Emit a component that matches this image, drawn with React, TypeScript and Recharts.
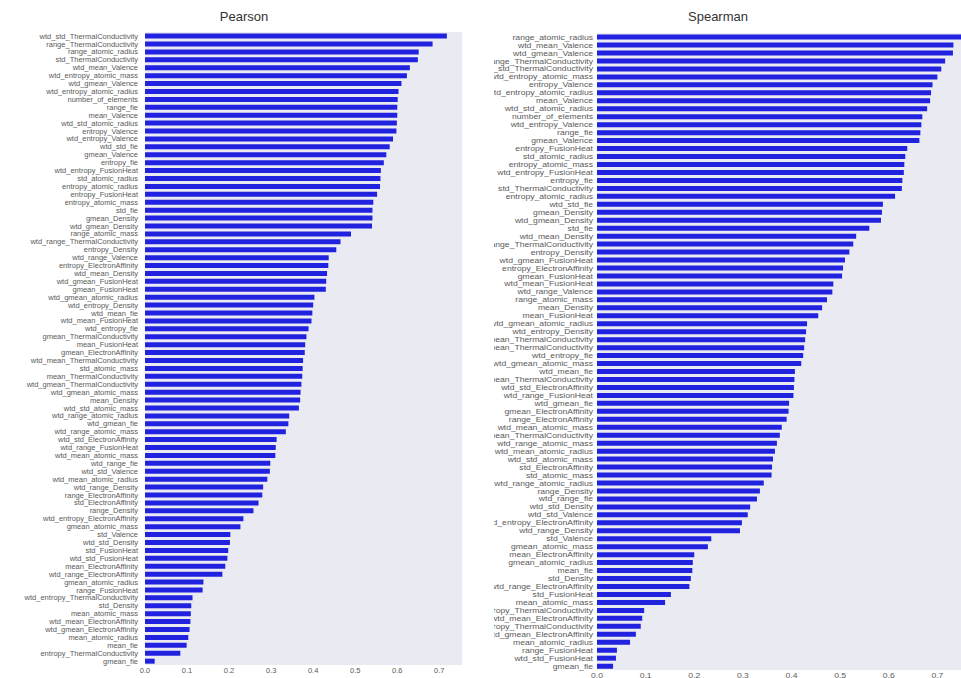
import { BarChart, Bar, XAxis, YAxis, CartesianGrid } from 'recharts';

const PEARSON_FEATURES = [
  'wtd_std_ThermalConductivity', 'range_ThermalConductivity', 'range_atomic_radius', 'std_ThermalConductivity',
  'wtd_mean_Valence', 'wtd_entropy_atomic_mass', 'wtd_gmean_Valence', 'wtd_entropy_atomic_radius',
  'number_of_elements', 'range_fie', 'mean_Valence', 'wtd_std_atomic_radius',
  'entropy_Valence', 'wtd_entropy_Valence', 'wtd_std_fie', 'gmean_Valence',
  'entropy_fie', 'wtd_entropy_FusionHeat', 'std_atomic_radius', 'entropy_atomic_radius',
  'entropy_FusionHeat', 'entropy_atomic_mass', 'std_fie', 'gmean_Density',
  'wtd_gmean_Density', 'range_atomic_mass', 'wtd_range_ThermalConductivity', 'entropy_Density',
  'wtd_range_Valence', 'entropy_ElectronAffinity', 'wtd_mean_Density', 'wtd_gmean_FusionHeat',
  'gmean_FusionHeat', 'wtd_gmean_atomic_radius', 'wtd_entropy_Density', 'wtd_mean_fie',
  'wtd_mean_FusionHeat', 'wtd_entropy_fie', 'gmean_ThermalConductivity', 'mean_FusionHeat',
  'gmean_ElectronAffinity', 'wtd_mean_ThermalConductivity', 'std_atomic_mass', 'mean_ThermalConductivity',
  'wtd_gmean_ThermalConductivity', 'wtd_gmean_atomic_mass', 'mean_Density', 'wtd_std_atomic_mass',
  'wtd_range_atomic_radius', 'wtd_gmean_fie', 'wtd_range_atomic_mass', 'wtd_std_ElectronAffinity',
  'wtd_range_FusionHeat', 'wtd_mean_atomic_mass', 'wtd_range_fie', 'wtd_std_Valence',
  'wtd_mean_atomic_radius', 'wtd_range_Density', 'range_ElectronAffinity', 'std_ElectronAffinity',
  'range_Density', 'wtd_entropy_ElectronAffinity', 'gmean_atomic_mass', 'std_Valence',
  'wtd_std_Density', 'std_FusionHeat', 'wtd_std_FusionHeat', 'mean_ElectronAffinity',
  'wtd_range_ElectronAffinity', 'gmean_atomic_radius', 'range_FusionHeat', 'wtd_entropy_ThermalConductivity',
  'std_Density', 'mean_atomic_mass', 'wtd_mean_ElectronAffinity', 'wtd_gmean_ElectronAffinity',
  'mean_atomic_radius', 'mean_fie', 'entropy_ThermalConductivity', 'gmean_fie',
];

const PEARSON_VALUES = [
  0.718, 0.684, 0.651, 0.649, 0.63, 0.623, 0.61, 0.603,
  0.601, 0.6, 0.6, 0.599, 0.598, 0.59, 0.582, 0.574,
  0.568, 0.561, 0.56, 0.559, 0.552, 0.543, 0.541, 0.541,
  0.54, 0.49, 0.465, 0.455, 0.437, 0.436, 0.433, 0.431,
  0.43, 0.403, 0.4, 0.398, 0.396, 0.389, 0.384, 0.381,
  0.38, 0.376, 0.375, 0.374, 0.372, 0.37, 0.369, 0.366,
  0.343, 0.341, 0.335, 0.313, 0.311, 0.31, 0.298, 0.297,
  0.291, 0.281, 0.279, 0.27, 0.258, 0.234, 0.227, 0.203,
  0.202, 0.198, 0.196, 0.191, 0.184, 0.139, 0.137, 0.113,
  0.11, 0.109, 0.108, 0.106, 0.103, 0.099, 0.084, 0.023,
];

const SPEARMAN_FEATURES = [
  'range_atomic_radius', 'wtd_mean_Valence', 'wtd_gmean_Valence', 'range_ThermalConductivity',
  'wtd_std_ThermalConductivity', 'wtd_entropy_atomic_mass', 'entropy_Valence', 'wtd_entropy_atomic_radius',
  'mean_Valence', 'wtd_std_atomic_radius', 'number_of_elements', 'wtd_entropy_Valence',
  'range_fie', 'gmean_Valence', 'entropy_FusionHeat', 'std_atomic_radius',
  'entropy_atomic_mass', 'wtd_entropy_FusionHeat', 'entropy_fie', 'std_ThermalConductivity',
  'entropy_atomic_radius', 'wtd_std_fie', 'gmean_Density', 'wtd_gmean_Density',
  'std_fie', 'wtd_mean_Density', 'wtd_range_ThermalConductivity', 'entropy_Density',
  'wtd_gmean_FusionHeat', 'entropy_ElectronAffinity', 'gmean_FusionHeat', 'wtd_mean_FusionHeat',
  'wtd_range_Valence', 'range_atomic_mass', 'mean_Density', 'mean_FusionHeat',
  'wtd_gmean_atomic_radius', 'wtd_entropy_Density', 'wtd_gmean_ThermalConductivity', 'gmean_ThermalConductivity',
  'wtd_entropy_fie', 'wtd_gmean_atomic_mass', 'wtd_mean_fie', 'mean_ThermalConductivity',
  'wtd_std_ElectronAffinity', 'wtd_range_FusionHeat', 'wtd_gmean_fie', 'gmean_ElectronAffinity',
  'range_ElectronAffinity', 'wtd_mean_atomic_mass', 'wtd_mean_ThermalConductivity', 'wtd_range_atomic_mass',
  'wtd_mean_atomic_radius', 'wtd_std_atomic_mass', 'std_ElectronAffinity', 'std_atomic_mass',
  'wtd_range_atomic_radius', 'range_Density', 'wtd_range_fie', 'wtd_std_Density',
  'wtd_std_Valence', 'wtd_entropy_ElectronAffinity', 'wtd_range_Density', 'std_Valence',
  'gmean_atomic_mass', 'mean_ElectronAffinity', 'gmean_atomic_radius', 'mean_fie',
  'std_Density', 'wtd_range_ElectronAffinity', 'std_FusionHeat', 'mean_atomic_mass',
  'entropy_ThermalConductivity', 'wtd_mean_ElectronAffinity', 'wtd_entropy_ThermalConductivity', 'wtd_gmean_ElectronAffinity',
  'mean_atomic_radius', 'range_FusionHeat', 'wtd_std_FusionHeat', 'gmean_fie',
];

const SPEARMAN_VALUES = [
  0.762, 0.733, 0.732, 0.716, 0.708, 0.7, 0.69, 0.687,
  0.685, 0.679, 0.669, 0.667, 0.665, 0.663, 0.638, 0.634,
  0.632, 0.631, 0.628, 0.627, 0.613, 0.588, 0.586, 0.584,
  0.56, 0.533, 0.527, 0.519, 0.51, 0.506, 0.504, 0.486,
  0.484, 0.473, 0.463, 0.455, 0.432, 0.43, 0.428, 0.426,
  0.424, 0.42, 0.407, 0.406, 0.405, 0.404, 0.395, 0.394,
  0.39, 0.38, 0.376, 0.37, 0.366, 0.362, 0.36, 0.359,
  0.343, 0.335, 0.329, 0.315, 0.31, 0.298, 0.294, 0.235,
  0.228, 0.2, 0.197, 0.196, 0.193, 0.19, 0.152, 0.14,
  0.097, 0.093, 0.09, 0.08, 0.068, 0.041, 0.039, 0.033,
];

const X_TICKS = [0, 0.1, 0.2, 0.3, 0.4, 0.5, 0.6, 0.7];

const BAR_COLOR = '#2121e0';
const PANEL_BG = '#eaeaf2';
const TEXT_COLOR = '#5a5a5a';
const FONT = '"Liberation Sans", Arial, sans-serif';

const pearsonData = PEARSON_FEATURES.map((name, i) => ({ name, value: PEARSON_VALUES[i] }));
const spearmanData = SPEARMAN_FEATURES.map((name, i) => ({ name, value: SPEARMAN_VALUES[i] }));

// the spearman image in the reference is stretched sideways, so its text is too
function makeTick(stretch: number, axis: 'x' | 'y') {
  return function Tick(props: any) {
    const { x, y, payload } = props;
    const label = axis === 'x' ? Number(payload.value).toFixed(1) : payload.value;
    return (
      <g transform={`translate(${x},${y})`}>
        <text
          transform={`scale(${stretch},1)`}
          textAnchor={axis === 'x' ? 'middle' : 'end'}
          dy={axis === 'x' ? '0.71em' : '0.355em'}
          fontSize={7.5}
          fill={TEXT_COLOR}
          fontFamily={FONT}
        >
          {label}
        </text>
      </g>
    );
  };
}

interface PanelProps {
  data: { name: string; value: number }[];
  width: number;
  height: number;
  top: number;
  labelWidth: number;
  labelGap: number;
  xMax: number;
  rightMargin: number;
  stretch: number;
}

function CorrPanel({ data, width, height, top, labelWidth, labelGap, xMax, rightMargin, stretch }: PanelProps) {
  return (
    <BarChart
      layout="vertical"
      width={width}
      height={height}
      data={data}
      margin={{ top, right: rightMargin, bottom: 0, left: 0 }}
      barCategoryGap="20%"
    >
      <CartesianGrid fill={PANEL_BG} stroke="none" horizontal={false} vertical={false} />
      <XAxis
        type="number"
        domain={[0, xMax]}
        ticks={X_TICKS}
        axisLine={false}
        tickLine={false}
        tickSize={1}
        tickMargin={2}
        height={13}
        tick={makeTick(stretch, 'x')}
      />
      <YAxis
        type="category"
        dataKey="name"
        width={labelWidth}
        interval={0}
        axisLine={false}
        tickLine={false}
        tickSize={labelGap - 2}
        tickMargin={2}
        tick={makeTick(stretch, 'y')}
      />
      <Bar dataKey="value" fill={BAR_COLOR} isAnimationActive={false} />
    </BarChart>
  );
}

const titleStyle = {
  position: 'absolute' as const,
  top: 9,
  fontSize: 13,
  color: '#333',
  fontFamily: FONT,
  transform: 'translateX(-50%)',
  whiteSpace: 'nowrap' as const,
};

export default function App() {
  return (
    <div style={{ position: 'absolute', left: 0, top: 0, width: 961, height: 678, overflow: 'hidden', background: '#fff' }}>
      <div style={{ ...titleStyle, left: 244 }}>Pearson</div>
      <div style={{ ...titleStyle, left: 718 }}>Spearman</div>

      <div style={{ position: 'absolute', left: 0, top: 0 }}>
        <CorrPanel
          data={pearsonData}
          width={470}
          height={678}
          top={32}
          labelWidth={145}
          labelGap={7}
          xMax={0.754}
          rightMargin={8}
          stretch={1}
        />
      </div>

      <div style={{ position: 'absolute', left: 494, top: 0, width: 467, height: 678, overflow: 'hidden' }}>
        <CorrPanel
          data={spearmanData}
          width={495}
          height={683}
          top={33}
          labelWidth={103}
          labelGap={4}
          xMax={0.8}
          rightMargin={3}
          stretch={1.15}
        />
      </div>
    </div>
  );
}
